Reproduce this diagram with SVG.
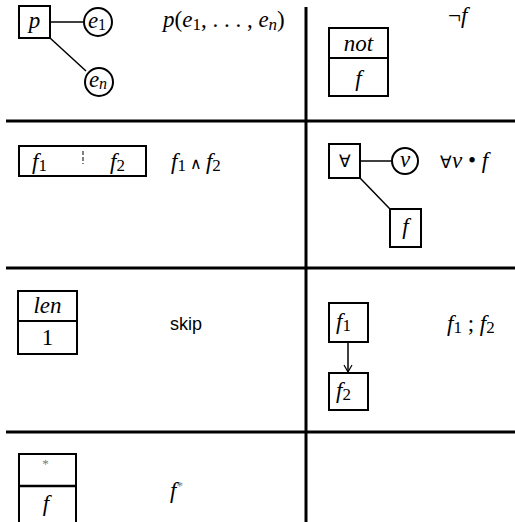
<svg xmlns="http://www.w3.org/2000/svg" width="515" height="522" viewBox="0 0 515 522">
<style>
.box{fill:#fff;stroke:#000;stroke-width:2}
.grid{stroke:#000;stroke-width:3;fill:none}
.edge{stroke:#000;stroke-width:1.5;fill:none}
</style>
<defs>
<marker id="arr" markerWidth="10" markerHeight="10" refX="8" refY="5" orient="auto" markerUnits="userSpaceOnUse">
<path d="M1,1 L8,5 L1,9" fill="none" stroke="#000" stroke-width="1.2"/>
</marker>
</defs>
<rect width="515" height="522" fill="#fff"/>
<g id="grid">
<line class="grid" x1="306" y1="7" x2="306" y2="522"/>
<line class="grid" x1="6" y1="121" x2="515" y2="121"/>
<line class="grid" x1="6" y1="268" x2="515" y2="268"/>
<line class="grid" x1="6" y1="432" x2="515" y2="432"/>
</g>
<g id="connectors">
<line class="edge" x1="50" y1="22" x2="83" y2="22" stroke-width="2"/>
<line class="edge" x1="50" y1="38" x2="86" y2="71"/>
<line class="edge" x1="360" y1="161" x2="392" y2="161" stroke-width="2"/>
<line class="edge" x1="360" y1="178" x2="390" y2="209"/>
<line class="edge" x1="348" y1="342" x2="348" y2="372" marker-end="url(#arr)"/>
</g>
<g font-family="Liberation Serif, Times New Roman, serif" font-size="23" fill="#000">
<g id="n-p"><rect class="box" x="19" y="6" width="31" height="32"/><text font-style="italic" x="34.5" y="28" text-anchor="middle">p</text></g>
<g id="n-e1"><circle class="box" cx="98" cy="22" r="14" stroke-width="1.2"/><text x="97" y="28" text-anchor="middle"><tspan font-style="italic">e</tspan><tspan font-size="16" dy="2">1</tspan></text></g>
<g id="n-en"><circle class="box" cx="99" cy="82" r="14" stroke-width="1.2"/><text font-style="italic" x="98" y="87" text-anchor="middle">e<tspan font-size="16" dy="2">n</tspan></text></g>
<g id="f-pred"><text x="163" y="27"><tspan font-style="italic">p</tspan>(<tspan font-style="italic">e</tspan><tspan font-size="17" dy="3">1</tspan><tspan dy="-3">, . . . , </tspan><tspan font-style="italic">e</tspan><tspan font-size="17" font-style="italic" dy="3">n</tspan><tspan dy="-3">)</tspan></text></g>

<g id="n-not"><rect class="box" x="329" y="28" width="59" height="68"/><line x1="329" y1="58" x2="388" y2="58" stroke="#000" stroke-width="2"/><text font-style="italic" x="358.5" y="51" text-anchor="middle">not</text><text font-style="italic" x="358.5" y="86" text-anchor="middle">f</text></g>
<g id="f-not"><text x="448" y="23">¬<tspan font-style="italic">f</tspan></text></g>

<g id="n-and"><rect class="box" x="19" y="146" width="127" height="30"/><line x1="83" y1="151" x2="83" y2="164" stroke="#000" stroke-width="1" stroke-dasharray="4,2"/><text x="32" y="169"><tspan font-style="italic">f</tspan><tspan font-size="17" dy="2">1</tspan></text><text x="110" y="169"><tspan font-style="italic">f</tspan><tspan font-size="17" dy="2">2</tspan></text></g>
<g id="f-and"><text x="171" y="169"><tspan font-style="italic">f</tspan><tspan font-size="17" dy="2">1</tspan><tspan dy="-2" font-size="16"> ∧ </tspan><tspan font-style="italic">f</tspan><tspan font-size="17" dy="2">2</tspan></text></g>

<g id="n-forall"><rect class="box" x="329" y="144" width="31" height="34"/><text x="344.5" y="167" text-anchor="middle" font-size="17">∀</text></g>
<g id="n-v"><circle class="box" cx="405" cy="161" r="13" stroke-width="1.2"/><text font-style="italic" x="405" y="167" text-anchor="middle">v</text></g>
<g id="n-f1"><rect class="box" x="390" y="209" width="31" height="38"/><text font-style="italic" x="405.5" y="234" text-anchor="middle">f</text></g>
<g id="f-forall"><text x="440" y="168"><tspan font-size="17">∀</tspan><tspan font-style="italic">v</tspan> • <tspan font-style="italic">f</tspan></text></g>

<g id="n-len"><rect class="box" x="18" y="291" width="59" height="63"/><line x1="18" y1="321" x2="77" y2="321" stroke="#000" stroke-width="2"/><text font-style="italic" x="47.5" y="313" text-anchor="middle">len</text><text x="47.5" y="345" text-anchor="middle">1</text></g>
<g id="f-skip"><text x="170" y="330" font-family="Liberation Sans, Arial, sans-serif" font-size="18">skip</text></g>

<g id="n-s1"><rect class="box" x="329" y="303" width="39" height="39"/><text x="336" y="329"><tspan font-style="italic">f</tspan><tspan font-size="17" dy="2">1</tspan></text></g>
<g id="n-s2"><rect class="box" x="329" y="373" width="39" height="37"/><text x="336" y="398"><tspan font-style="italic">f</tspan><tspan font-size="17" dy="2">2</tspan></text></g>
<g id="f-seq"><text x="447" y="331"><tspan font-style="italic">f</tspan><tspan font-size="17" dy="2">1</tspan><tspan dy="-2"> ; </tspan><tspan font-style="italic">f</tspan><tspan font-size="17" dy="2">2</tspan></text></g>

<g id="n-star"><path d="M19,524 V454 H76 V524" fill="#fff" stroke="#000" stroke-width="2"/><line x1="19" y1="486" x2="76" y2="486" stroke="#000" stroke-width="2.5"/><text x="45.5" y="468" text-anchor="middle" font-size="13" fill="#777">*</text><text font-style="italic" x="46" y="511" text-anchor="middle">f</text></g>
<g id="f-star"><text x="170" y="498"><tspan font-style="italic">f</tspan><tspan font-size="13" fill="#777" dy="-8">*</tspan></text></g>
</g>
</svg>
